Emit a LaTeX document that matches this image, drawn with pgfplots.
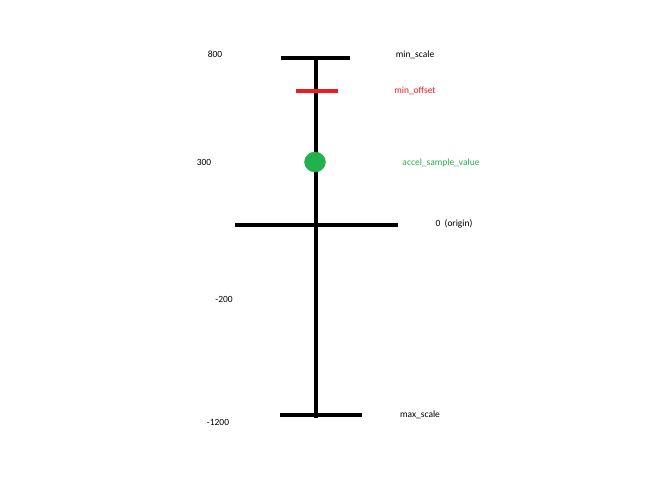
\documentclass[border=0pt]{standalone}
\usepackage{pgfplots}
\pgfplotsset{compat=1.18}
\usepackage{fontspec}
\setmainfont{Carlito}
\definecolor{pred}{RGB}{237,28,36}
\definecolor{pgreen}{RGB}{34,177,76}
\begin{document}
\begin{tikzpicture}
\begin{axis}[width=647bp,height=494bp,scale only axis,xmin=0,xmax=647,ymin=-494,ymax=0,hide axis,clip=false]
\path[fill=white] (axis cs:0,0) rectangle (axis cs:647,-494);
\addplot[black,line width=4bp] coordinates {(316,-60) (316,-418)};
\addplot[black,line width=4bp] coordinates {(281,-58) (350,-58)};
\addplot[pred,line width=4bp] coordinates {(296,-91) (338,-91)};
\addplot[black,line width=4bp] coordinates {(235,-225) (398,-225)};
\addplot[black,line width=4bp] coordinates {(280,-415) (362,-415)};
\addplot[only marks,mark=*,mark size=10.5bp,mark options={fill=pgreen,draw=pgreen,yscale=0.95}] coordinates {(315,-162)};
\begin{scope}[every node/.style={font=\fontsize{9.5}{11}\selectfont}]
\node at (axis cs:215,-54) {800};
\node at (axis cs:415,-55) {min\_scale};
\node[text=pred] at (axis cs:415,-91) {min\_offset};
\node at (axis cs:204,-162) {300};
\node[text=pgreen] at (axis cs:441,-163) {accel\_sample\_value};
\node at (axis cs:454,-224) {0\ \ (origin)};
\node at (axis cs:224,-299) {-200};
\node at (axis cs:218,-422) {-1200};
\node at (axis cs:420,-415) {max\_scale};
\end{scope}
\end{axis}
\end{tikzpicture}
\end{document}
